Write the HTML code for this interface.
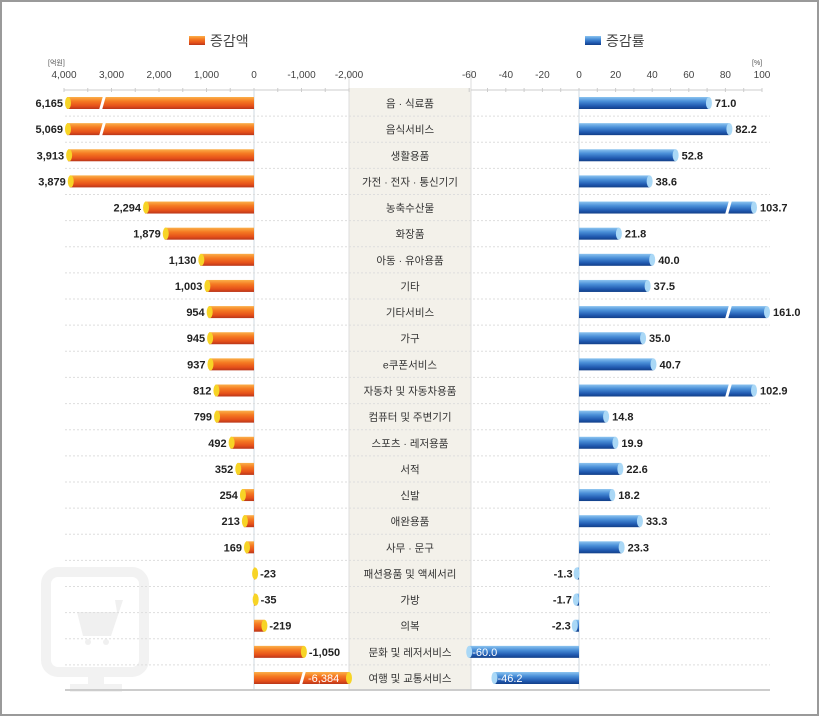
<!DOCTYPE html>
<html><head><meta charset="utf-8"><style>
html,body{margin:0;padding:0;background:#fff}
svg{display:block}
text{font-family:"Liberation Sans","Noto Sans CJK KR",sans-serif}
</style></head><body>
<svg id="s" width="819" height="716" viewBox="0 0 819 716" xmlns="http://www.w3.org/2000/svg">
<defs>
<linearGradient id="og" x1="0" y1="0" x2="0" y2="1">
<stop offset="0" stop-color="#fbb04a"/><stop offset="0.35" stop-color="#f57a22"/><stop offset="0.75" stop-color="#e5501a"/><stop offset="1" stop-color="#b8361a"/></linearGradient>
<linearGradient id="bg" x1="0" y1="0" x2="0" y2="1">
<stop offset="0" stop-color="#8cc4f0"/><stop offset="0.35" stop-color="#4a8fd8"/><stop offset="0.75" stop-color="#2059b0"/><stop offset="1" stop-color="#123f88"/></linearGradient>
</defs>
<rect x="1" y="1" width="817" height="714" fill="#fff" stroke="#9a9a9a" stroke-width="2"/>
<!-- monitor icon -->
<rect x="46" y="572" width="98" height="100" rx="12" fill="none" stroke="#f2f2f2" stroke-width="10"/>
<rect x="88" y="672" width="16" height="14" fill="#f2f2f2"/>
<rect x="70" y="684" width="52" height="8" fill="#f2f2f2"/>
<path d="M115 600 h8 l-12 36 h-28 l-6 -24 h40" fill="#f0f0f0"/>
<circle cx="88" cy="642" r="3" fill="#f0f0f0"/><circle cx="106" cy="642" r="3" fill="#f0f0f0"/>
<!-- center column -->
<rect x="349" y="88" width="122" height="602" fill="#f3f1ea"/>
<line x1="349" y1="70" x2="349" y2="690" stroke="#ddd"/>
<line x1="471" y1="70" x2="471" y2="690" stroke="#ddd"/>
<g id="g"></g>
</svg>
<script>
var g=document.getElementById('g'),h='';
function t(x,y,s,o){o=o||{};h+='<text x="'+x+'" y="'+y+'" font-size="'+(o.fs||11)+'" fill="'+(o.c||'#222')+'" text-anchor="'+(o.a||'start')+'"'+(o.b?' font-weight="bold"':'')+'>'+s+'</text>';}
h+='<rect x="189" y="36" width="16" height="9" fill="url(#og)"/>';t(210,46,'증감액',{fs:14,c:'#444'});
h+='<rect x="585" y="36" width="16" height="9" fill="url(#bg)"/>';t(606,46,'증감률',{fs:14,c:'#444'});
t(48,65,'[억원]',{fs:7,c:'#555'});t(752,65,'[%]',{fs:7,c:'#555'});
var lz=254,ls=0.0475;
[4000,3000,2000,1000,0,-1000,-2000].forEach(function(v){var x=lz-v*ls;t(x,78,v==0?'0':(v<0?'-':'')+Math.abs(v).toLocaleString('en-US'),{fs:10,c:'#444',a:'middle'});});
var rz=579,rs=1.83;
[-60,-40,-20,0,20,40,60,80,100].forEach(function(v){t(rz+v*rs,78,v,{fs:10,c:'#444',a:'middle'});});
h+='<line x1="64" y1="90" x2="349" y2="90" stroke="#ccc"/><line x1="471" y1="90" x2="762" y2="90" stroke="#ccc"/>';
for(var v=4000;v>=-2000;v-=500)h+='<line x1="'+(lz-v*ls)+'" y1="88" x2="'+(lz-v*ls)+'" y2="92" stroke="#ccc"/>';
for(var v=-60;v<=100;v+=10)h+='<line x1="'+(rz+v*rs)+'" y1="88" x2="'+(rz+v*rs)+'" y2="92" stroke="#ccc"/>';
h+='<line x1="254" y1="90" x2="254" y2="690" stroke="#cfd8e0"/><line x1="579" y1="90" x2="579" y2="690" stroke="#cfd8e0"/>';
var d=[['음 · 식료품',6165,71.0],['음식서비스',5069,82.2],['생활용품',3913,52.8],['가전 · 전자 · 통신기기',3879,38.6],['농축수산물',2294,103.7],['화장품',1879,21.8],['아동 · 유아용품',1130,40.0],['기타',1003,37.5],['기타서비스',954,161.0],['가구',945,35.0],['e쿠폰서비스',937,40.7],['자동차 및 자동차용품',812,102.9],['컴퓨터 및 주변기기',799,14.8],['스포츠 · 레저용품',492,19.9],['서적',352,22.6],['신발',254,18.2],['애완용품',213,33.3],['사무 · 문구',169,23.3],['패션용품 및 액세서리',-23,-1.3],['가방',-35,-1.7],['의복',-219,-2.3],['문화 및 레저서비스',-1050,-60.0],['여행 및 교통서비스',-6384,-46.2]];
var y0=103,sp=(678-103)/22;
d.forEach(function(r,i){
 var y=y0+i*sp;
 if(i<d.length-1)h+='<line x1="65" y1="'+(y+sp/2)+'" x2="770" y2="'+(y+sp/2)+'" stroke="#ddd" stroke-dasharray="2,2"/>';
 t(410,y+4,r[0],{fs:10.5,c:'#333',a:'middle'});
 var a=r[1],w,brk=false;
 if(a>0){w=a*ls;if(w>187){w=187;brk=a>4000;}var x=lz-w;
  h+='<rect x="'+x+'" y="'+(y-6)+'" width="'+w+'" height="12" fill="url(#og)"/>';
  h+='<ellipse cx="'+(x+1)+'" cy="'+y+'" rx="3" ry="6" fill="#f7d426"/>';
  if(brk)h+='<path d="M103 '+(y-7)+' l-4 14 h3 l4 -14z" fill="#fff"/>';
  t(x-4,y+4,a.toLocaleString('en-US'),{b:1,a:'end'});
 }else{w=-a*ls;if(w>95){w=95;brk=true;}var x2=lz+w;
  h+='<rect x="'+lz+'" y="'+(y-6)+'" width="'+w+'" height="12" fill="url(#og)"/>';
  h+='<ellipse cx="'+x2+'" cy="'+y+'" rx="3" ry="6" fill="#f7d426"/>';
  if(brk){h+='<path d="M303 '+(y-7)+' l-4 14 h3 l4 -14z" fill="#fff"/>';t(308,y+4,a.toLocaleString('en-US'),{c:'#fff'});}
  else t(x2+5,y+4,a.toLocaleString('en-US'),{b:1});
 }
 var p=r[2];
 if(p>0){w=p*rs;var cut=p>100;if(cut)w=(p>150?188:175);var x3=rz+w;
  h+='<rect x="'+rz+'" y="'+(y-6)+'" width="'+w+'" height="12" fill="url(#bg)"/>';
  h+='<ellipse cx="'+x3+'" cy="'+y+'" rx="3" ry="6" fill="#aad8f6"/>';
  if(cut)h+='<path d="M729 '+(y-7)+' l-4 14 h3 l4 -14z" fill="#fff"/>';
  t(x3+6,y+4,p.toFixed(1),{b:1});
 }else{w=-p*rs;var x4=rz-w;
  h+='<rect x="'+x4+'" y="'+(y-6)+'" width="'+w+'" height="12" fill="url(#bg)"/>';
  h+='<ellipse cx="'+x4+'" cy="'+y+'" rx="3" ry="6" fill="#aad8f6"/>';
  if(w>50)t(x4+3,y+4,p.toFixed(1),{c:'#fff'});else t(x4-4,y+4,p.toFixed(1),{b:1,a:'end'});
 }
});
h+='<line x1="65" y1="690" x2="770" y2="690" stroke="#ccc" stroke-width="2"/>';
g.innerHTML=h;
</script>
</body></html>
